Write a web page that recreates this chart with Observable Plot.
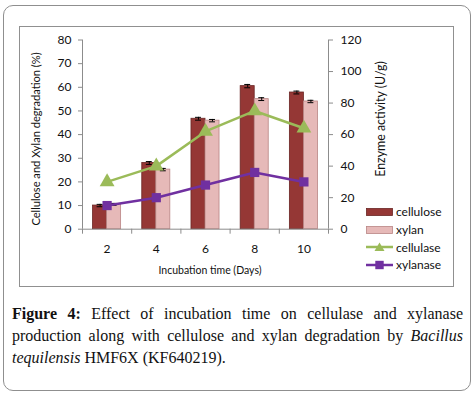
<!DOCTYPE html>
<html><head><meta charset="utf-8">
<script src="https://cdn.jsdelivr.net/npm/d3@7"></script>
<script src="https://cdn.jsdelivr.net/npm/@observablehq/plot@0.6"></script>
<style>
body{margin:0;background:#fff;}
#wrap{position:relative;width:476px;height:397px;overflow:hidden;font-family:Lato,sans-serif;color:#111;}
#outer{position:absolute;left:3px;top:5px;width:468px;height:386px;box-sizing:border-box;border:1.5px solid #8f8f8f;border-radius:10px;pointer-events:none;}
#inner{position:absolute;left:19px;top:26px;width:435px;height:261px;box-sizing:border-box;border:1.5px solid #909090;pointer-events:none;}
#chart{position:absolute;left:0;top:0;}
.title{position:absolute;white-space:nowrap;transform-origin:center center;}
#ytl{left:35px;top:139px;font-size:11.1px;transform:translate(-50%,-50%) rotate(-90deg);}
#ytr{left:380px;top:119px;font-size:12.4px;transform:translate(-50%,-50%) rotate(-90deg);}
#xt{left:210px;top:270px;font-size:10.5px;transform:translate(-50%,-50%);}
#legend{position:absolute;left:366px;top:203px;font-size:12px;}
.li{height:17.7px;display:flex;align-items:center;}
.li svg{margin-right:3px;}
#caption{position:absolute;left:12px;top:303px;width:451px;font-family:"Liberation Serif",serif;font-size:16px;line-height:22px;color:#111;}
#caption .j{text-align:justify;text-align-last:justify;}
#caption b{font-weight:600;}
</style></head>
<body>
<div id="wrap">
  <div id="chart"></div>
  <div id="outer"></div>
  <div id="inner"></div>
  <div class="title" id="ytl">Cellulose and Xylan degradation (%)</div>
  <div class="title" id="ytr">Enzyme activity (U/g)</div>
  <div class="title" id="xt">Incubation time (Days)</div>
  <div id="legend"></div>
  <div id="caption">
    <div class="j"><b>Figure 4:</b> Effect of incubation time on cellulase and xylanase</div>
    <div class="j">production along with cellulose and xylan degradation by <i>Bacillus</i></div>
    <div><i>tequilensis</i> HMF6X (KF640219).</div>
  </div>
</div>
<script>
const days = [2, 4, 6, 8, 10];
const cellulose = [10, 28, 46.7, 60.5, 57.8];
const celluloseErr = [0.5, 0.6, 0.6, 0.7, 0.6];
const xylan = [10.5, 25.2, 45.9, 55, 54];
const xylanErr = [0.4, 0.5, 0.5, 0.6, 0.5];
const cellulase = [30, 40, 62, 75, 64];
const xylanase = [15, 20, 28, 36, 30];
const leftTicks = [0, 10, 20, 30, 40, 50, 60, 70, 80];
const rightTicks = [0, 20, 40, 60, 80, 100, 120];
const seriesNames = ["cellulose", "xylan", "cellulase", "xylanase"];

const colors = {cellulose: "#953735", xylan: "#E6B9B8", cellulase: "#9BBB59", xylanase: "#7030A0"};
const strokes = {cellulose: "#6a2624", xylan: "#b98584"};

const rows = days.map((d, i) => ({
  day: d, cellulose: cellulose[i], cErr: celluloseErr[i], xylan: xylan[i], xErr: xylanErr[i],
  cellulase: cellulase[i], xylanase: xylanase[i]
}));

const k = 80 / 120; // right axis to left axis
const bw = 0.57;    // bar width in days
const cap = 0.12;

const chart = Plot.plot({
  width: 476, height: 290,
  marginLeft: 82, marginRight: 148, marginTop: 39.5, marginBottom: 61.3,
  style: {background: "transparent", fontFamily: "Lato, sans-serif", fontSize: "12px", color: "#111"},
  x: {type: "linear", domain: [1, 11], axis: null},
  y: {domain: [0, 80], axis: null},
  marks: [
    Plot.rectY(rows, {x1: d => d.day - bw, x2: d => d.day, y: "cellulose", fill: colors.cellulose, stroke: strokes.cellulose, strokeWidth: 0.8}),
    Plot.rectY(rows, {x1: d => d.day, x2: d => d.day + bw, y: "xylan", fill: colors.xylan, stroke: strokes.xylan, strokeWidth: 0.8}),
    // error bars
    Plot.ruleX(rows, {x: d => d.day - bw / 2, y1: d => d.cellulose - d.cErr, y2: d => d.cellulose + d.cErr, stroke: "#000", strokeWidth: 1}),
    Plot.ruleY(rows, {y: d => d.cellulose + d.cErr, x1: d => d.day - bw / 2 - cap, x2: d => d.day - bw / 2 + cap, stroke: "#000", strokeWidth: 1}),
    Plot.ruleY(rows, {y: d => d.cellulose - d.cErr, x1: d => d.day - bw / 2 - cap, x2: d => d.day - bw / 2 + cap, stroke: "#000", strokeWidth: 1}),
    Plot.ruleX(rows, {x: d => d.day + bw / 2, y1: d => d.xylan - d.xErr, y2: d => d.xylan + d.xErr, stroke: "#000", strokeWidth: 1}),
    Plot.ruleY(rows, {y: d => d.xylan + d.xErr, x1: d => d.day + bw / 2 - cap, x2: d => d.day + bw / 2 + cap, stroke: "#000", strokeWidth: 1}),
    Plot.ruleY(rows, {y: d => d.xylan - d.xErr, x1: d => d.day + bw / 2 - cap, x2: d => d.day + bw / 2 + cap, stroke: "#000", strokeWidth: 1}),
    // lines
    Plot.line(rows, {x: "day", y: d => d.cellulase * k, stroke: colors.cellulase, strokeWidth: 2.5}),
    Plot.dot(rows, {x: "day", y: d => d.cellulase * k, symbol: "triangle", fill: colors.cellulase, r: 5.5}),
    Plot.line(rows, {x: "day", y: d => d.xylanase * k, stroke: colors.xylanase, strokeWidth: 2.5}),
    Plot.dot(rows, {x: "day", y: d => d.xylanase * k, symbol: "square", fill: colors.xylanase, r: 5.2}),
    // axes lines
    Plot.ruleX([1], {stroke: "#8c8c8c"}),
    Plot.ruleX([11], {stroke: "#8c8c8c"}),
    Plot.ruleY([0], {stroke: "#8c8c8c"}),
    Plot.axisY(leftTicks, {anchor: "left", tickSize: 4, tickPadding: 7, stroke: "#8c8c8c", fill: "#111", fontSize: 12, label: null}),
    Plot.axisY(rightTicks.map(v => v * k), {anchor: "right", tickSize: 4, tickPadding: 8, stroke: "#8c8c8c", fill: "#111", fontSize: 12, tickFormat: v => String(Math.round(v / k)), label: null}),
    Plot.axisX(days, {anchor: "bottom", tickSize: 0, tickPadding: 15, fill: "#111", fontSize: 12, label: null}),
    Plot.axisX([1, 3, 5, 7, 9, 11], {anchor: "bottom", tickSize: 5, stroke: "#8c8c8c", tickFormat: () => "", label: null})
  ]
});
document.getElementById("chart").appendChild(chart);

// legend
const legend = document.getElementById("legend");
seriesNames.forEach(name => {
  const item = document.createElement("div");
  item.className = "li";
  let sw;
  if (name === "cellulose" || name === "xylan") {
    sw = `<svg width="27" height="10"><rect x="0.5" y="1.5" width="26" height="7" fill="${colors[name]}" stroke="${strokes[name]}" stroke-width="0.8"/></svg>`;
  } else if (name === "cellulase") {
    sw = `<svg width="27" height="12"><line x1="0" x2="27" y1="6" y2="6" stroke="${colors[name]}" stroke-width="2.5"/><path d="M13.5,1.5 L18.5,10 L8.5,10 Z" fill="${colors[name]}"/></svg>`;
  } else {
    sw = `<svg width="27" height="12"><line x1="0" x2="27" y1="6" y2="6" stroke="${colors[name]}" stroke-width="2.5"/><rect x="9.3" y="1.8" width="8.4" height="8.4" fill="${colors[name]}"/></svg>`;
  }
  item.innerHTML = sw + `<span>${name}</span>`;
  legend.appendChild(item);
});
</script>
</body></html>
